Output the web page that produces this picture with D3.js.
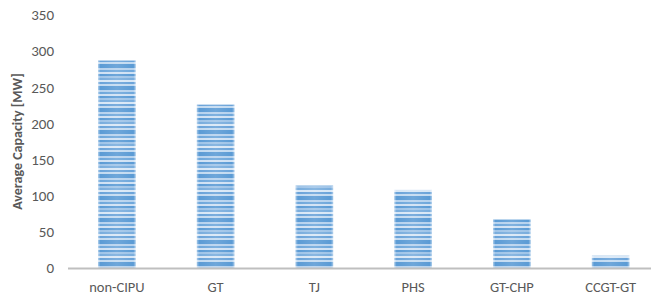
<!DOCTYPE html>
<html>
<head>
<meta charset="utf-8">
<script src="https://cdn.jsdelivr.net/npm/d3@7"></script>
<style>
  body { margin: 0; background: #fff; }
  text { font-family: Calibri, Carlito, "Liberation Sans", sans-serif; }
</style>
</head>
<body>
<div id="chart"></div>
<script>
// chart data
const categories = ['non-CIPU', 'GT', 'TJ', 'PHS', 'GT-CHP', 'CCGT-GT'];
const avgCapacity = [287, 226, 114, 108, 67, 17];
const yTicks = [0, 50, 100, 150, 200, 250, 300, 350];

const width = 651, height = 298;
const margin = {top: 15, left: 67.5, bottom: 268};

const svg = d3.select('#chart').append('svg')
	.attr('width', width)
	.attr('height', height);

// striped fill like the office "horizontal" pattern
const defs = svg.append('defs');
const pat = defs.append('pattern')
	.attr('id', 'stripes')
	.attr('patternUnits', 'userSpaceOnUse')
	.attr('width', 40)
	.attr('height', 22);
pat.append('rect').attr('width', 40).attr('height', 22).attr('fill', '#8db8e3');
const stripeCols = ['#5b9bd5', '#b6d2ee', '#6ea7db', '#cfe1f4', '#5b9bd5', '#9fc4e8', '#79addd', '#d8e7f6', '#6aa3d9', '#c2daf1', '#5b9bd5'];
stripeCols.forEach((c, i) => {
	pat.append('rect')
		.attr('y', i * 2)
		.attr('width', 40)
		.attr('height', 2)
		.attr('fill', c);
});

const grad = defs.append('linearGradient').attr('id', 'edge').attr('x1', 0).attr('x2', 1);
grad.append('stop').attr('offset', 0).attr('stop-color', '#fff').attr('stop-opacity', 0.45);
grad.append('stop').attr('offset', 0.06).attr('stop-color', '#fff').attr('stop-opacity', 0);
grad.append('stop').attr('offset', 0.5).attr('stop-color', '#fff').attr('stop-opacity', 0.12);
grad.append('stop').attr('offset', 0.94).attr('stop-color', '#fff').attr('stop-opacity', 0);
grad.append('stop').attr('offset', 1).attr('stop-color', '#fff').attr('stop-opacity', 0.45);

const x = d3.scaleBand()
	.domain(categories)
	.range([margin.left, 660])
	.paddingInner(0.62)
	.paddingOuter(0.31);

const y = d3.scaleLinear()
	.domain([0, 350])
	.range([margin.bottom, margin.top]);

// y tick labels (no axis line)
const yAxis = svg.append('g')
	.attr('transform', 'translate(54,0)')
	.call(d3.axisLeft(y).tickValues(yTicks).tickSize(0).tickPadding(0));
yAxis.select('.domain').remove();
yAxis.selectAll('text')
	.attr('fill', '#595959')
	.style('font-size', '15px')
	.style('font-family', 'Calibri, Carlito, "Liberation Sans", sans-serif');

// bars
const bars = svg.append('g');
bars.selectAll('rect.bar')
	.data(avgCapacity)
	.enter().append('rect')
		.attr('class', 'bar')
		.attr('x', (d, i) => x(categories[i]))
		.attr('y', d => y(d))
		.attr('width', x.bandwidth())
		.attr('height', d => y(0) - y(d))
		.attr('fill', 'url(#stripes)');
bars.selectAll('rect.edge')
	.data(avgCapacity)
	.enter().append('rect')
		.attr('class', 'edge')
		.attr('x', (d, i) => x(categories[i]))
		.attr('y', d => y(d))
		.attr('width', x.bandwidth())
		.attr('height', d => y(0) - y(d))
		.attr('fill', 'url(#edge)');

// x axis
const xAxis = svg.append('g')
	.attr('transform', 'translate(0,' + y(0) + ')')
	.call(d3.axisBottom(x).tickSize(0).tickPadding(14));
xAxis.select('.domain')
	.attr('stroke', '#bfbfbf')
	.attr('stroke-width', 2);
xAxis.selectAll('text')
	.attr('fill', '#595959')
	.style('font-size', '14.5px')
	.style('font-family', 'Calibri, Carlito, "Liberation Sans", sans-serif');

// y title
svg.append('text')
	.attr('transform', 'translate(22,' + (margin.top + margin.bottom) / 2 + ') rotate(-90)')
	.attr('text-anchor', 'middle')
	.attr('fill', '#595959')
	.style('font-size', '14px')
	.style('font-weight', 'bold')
	.text('Average Capacity [MW]');
</script>
</body>
</html>
